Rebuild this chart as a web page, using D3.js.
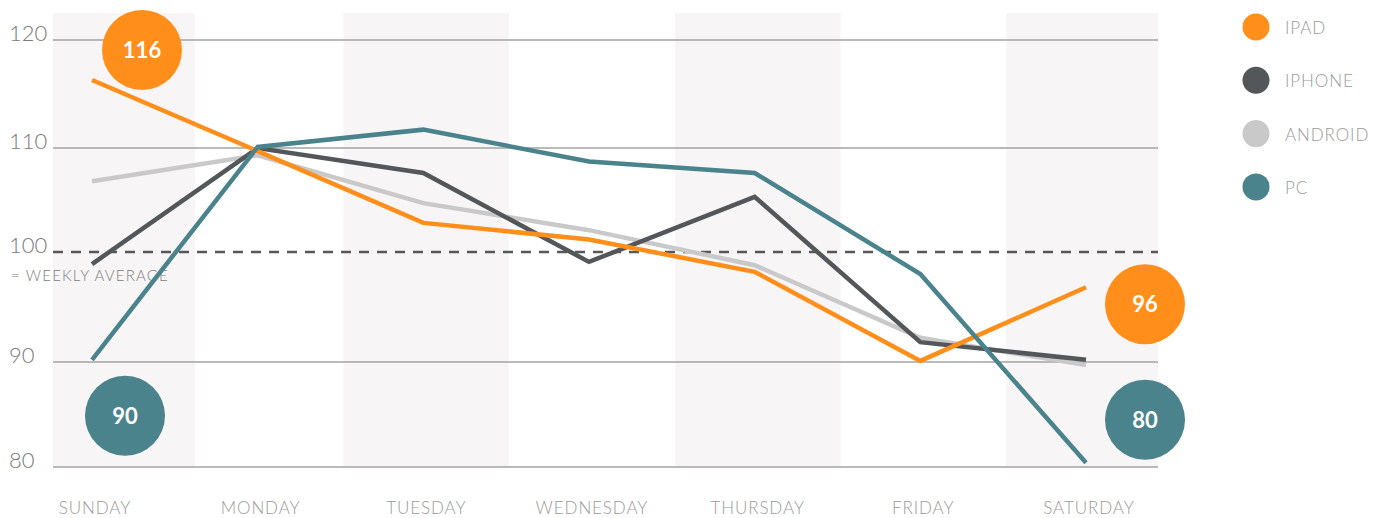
<!DOCTYPE html>
<html><head><meta charset="utf-8">
<script src="https://cdn.jsdelivr.net/npm/d3@7"></script>
<style>body{margin:0;background:#fff} svg{display:block} text{font-family:Lato,"Open Sans",sans-serif}</style>
</head><body><svg id="c" width="1374" height="518"></svg>
<script>
// ---- data ----
const days = ["SUNDAY","MONDAY","TUESDAY","WEDNESDAY","THURSDAY","FRIDAY","SATURDAY"];
const ipad    = [116.3,109.7,102.8,101.2,98.2,90.1,96.8];
const iphone  = [98.9,110.0,107.6,99.1,105.3,91.8,90.2];
const android = [106.8,109.3,104.7,102.1,98.8,92.2,89.7];
const pc      = [90.2,110.1,111.7,108.7,107.6,98.0,80.4];
const yTicks = [80,90,100,110,120];
const averageValue = 100;
const averageLabel = "= WEEKLY AVERAGE";
const seriesNames = ["IPAD","IPHONE","ANDROID","PC"];
const shadedDays = ["SUNDAY","TUESDAY","THURSDAY","SATURDAY"];
const bubbleSeries = ["IPAD","PC","IPAD","PC"];
const bubbleDays = ["SUNDAY","SUNDAY","SATURDAY","SATURDAY"];
const bubbleLabels = ["116","90","96","80"];

// ---- styles ----
const colors = {IPAD:"#ff8f1a", IPHONE:"#53575a", ANDROID:"#c9c9c9", PC:"#4a838c"};
const values = {IPAD:ipad, IPHONE:iphone, ANDROID:android, PC:pc};
const drawOrder = ["ANDROID","IPHONE","IPAD","PC"];
const bubbleOffsets = [[50,-30],[33,56],[59,17],[59,-43]];

const svg = d3.select("#c");
const plotLeft = 53, plotRight = 1158, plotTop = 13, plotBottom = 467;

const x = d3.scalePoint().domain(days).range([92,1086]);
const y = d3.scaleLinear().domain([80,90,100,110,120]).range([467,362,252,148,40]);

// band edges: midpoints between neighbouring days (first band a little wider)
function bandEdges(d){
  const i = days.indexOf(d);
  const x0 = i === 0 ? plotLeft : (x(days[i-1]) + x(d))/2 + (i === 1 ? 20 : 3);
  const x1 = i === days.length-1 ? plotRight : (x(d) + x(days[i+1]))/2 + (i === 0 ? 20 : 3);
  return [x0,x1];
}
svg.append("g").selectAll("rect").data(shadedDays).join("rect")
  .attr("x", d => bandEdges(d)[0]).attr("y", plotTop)
  .attr("width", d => bandEdges(d)[1]-bandEdges(d)[0]).attr("height", plotBottom-plotTop)
  .attr("fill", "#f7f5f6");

// grid lines
svg.append("g").selectAll("line").data(yTicks.filter(t => t !== averageValue)).join("line")
  .attr("x1", plotLeft).attr("x2", plotRight)
  .attr("y1", d => y(d)).attr("y2", d => y(d))
  .attr("stroke", "#a3a3a3").attr("stroke-width", 1.5);

svg.append("line")
  .attr("x1", plotLeft).attr("x2", plotRight)
  .attr("y1", y(averageValue)).attr("y2", y(averageValue))
  .attr("stroke", "#58585a").attr("stroke-width", 2.5)
  .attr("stroke-dasharray", "10,8");

// tick labels
svg.append("g").selectAll("text").data(yTicks).join("text")
  .attr("x", 9).attr("y", d => y(d) + 1)
  .attr("font-size", 22).attr("font-weight", 300).attr("fill", "#7a7a7a")
  .text(d => d);

svg.append("text").attr("x", 11).attr("y", y(averageValue) + 29)
  .attr("font-size", 15).attr("font-weight", 300).attr("fill", "#808080")
  .attr("letter-spacing", 1.2).text(averageLabel);

// day labels
svg.append("g").selectAll("text").data(days).join("text")
  .attr("x", d => x(d) + 3).attr("y", 514)
  .attr("text-anchor", "middle")
  .attr("font-size", 17).attr("font-weight", 300).attr("fill", "#9a9a9a")
  .attr("letter-spacing", 0.9).text(d => d);

// lines
const line = d3.line().x((v,i) => x(days[i])).y(v => y(v));
svg.append("g").selectAll("path").data(drawOrder).join("path")
  .attr("d", s => line(values[s]))
  .attr("fill", "none").attr("stroke", s => colors[s])
  .attr("stroke-width", 4.5);

// bubbles
const bubbles = bubbleLabels.map((lab,i) => ({
  lab, s: bubbleSeries[i],
  cx: x(bubbleDays[i]) + bubbleOffsets[i][0],
  cy: y(values[bubbleSeries[i]][days.indexOf(bubbleDays[i])]) + bubbleOffsets[i][1]
}));
const bg = svg.append("g").selectAll("g").data(bubbles).join("g");
bg.append("circle").attr("cx", d => d.cx).attr("cy", d => d.cy).attr("r", 40)
  .attr("fill", d => colors[d.s]);
bg.append("text").attr("x", d => d.cx).attr("y", d => d.cy + 8)
  .attr("text-anchor", "middle").attr("font-size", 22).attr("font-weight", 700)
  .attr("fill", "#fff").text(d => d.lab);

// legend
const lg = svg.append("g").selectAll("g").data(seriesNames).join("g")
  .attr("transform", (d,i) => `translate(1256,${27 + i*53.3})`);
lg.append("circle").attr("r", 13.5).attr("fill", d => colors[d]);
lg.append("text").attr("x", 29).attr("y", 7)
  .attr("font-size", 17).attr("font-weight", 300).attr("fill", "#9a9a9a")
  .attr("letter-spacing", 0.9).text(d => d);
</script></body></html>
